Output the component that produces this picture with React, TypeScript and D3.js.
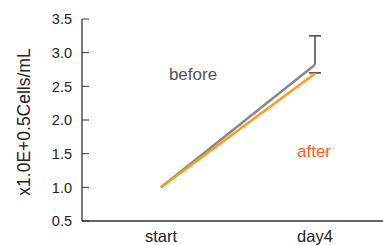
import * as d3 from "d3";

const WIDTH = 383;
const HEIGHT = 245;
const MARGIN = { top: 19, right: 0, bottom: 24, left: 82 };

const CATEGORIES = ["start", "day4"];
const BEFORE = [1.0, 2.82];
const BEFORE_ERR = [0, 0.43];
const AFTER = [1.0, 2.69];
const AFTER_ERR = [0, 0.01];
const Y_TICKS = [0.5, 1.0, 1.5, 2.0, 2.5, 3.0, 3.5];

const FONT = "'Liberation Sans', Arial, sans-serif";

export default function App() {
  const x = d3.scalePoint<string>().domain(CATEGORIES).range([161, 315]);
  const y = d3
    .scaleLinear()
    .domain([0.5, 3.5])
    .range([HEIGHT - MARGIN.bottom, MARGIN.top]);

  const line = d3
    .line<number>()
    .x((_, i) => x(CATEGORIES[i]) ?? 0)
    .y((d) => y(d));

  const x0 = MARGIN.left;
  const yBase = HEIGHT - MARGIN.bottom;
  const last = CATEGORIES.length - 1;
  const xLast = x(CATEGORIES[last]) ?? 0;

  return (
    <svg
      width={WIDTH}
      height={HEIGHT}
      style={{ position: "absolute", left: 0, top: 0, fontFamily: FONT }}
    >
      {/* axes */}
      <line x1={x0} x2={x0} y1={y(3.5)} y2={yBase} stroke="#333" strokeWidth={1.3} />
      <line x1={x0} x2={WIDTH} y1={yBase} y2={yBase} stroke="#333" strokeWidth={1.3} />
      {Y_TICKS.map((t) => (
        <g key={t}>
          <line x1={x0} x2={x0 + 7} y1={y(t)} y2={y(t)} stroke="#333" strokeWidth={1} />
          <text x={72} y={y(t)} dy="0.36em" textAnchor="end" fontSize={14.5} fill="#222">
            {t.toFixed(1)}
          </text>
        </g>
      ))}
      {CATEGORIES.map((c) => (
        <text key={c} x={x(c)} y={242} textAnchor="middle" fontSize={16.5} fill="#222">
          {c}
        </text>
      ))}
      <text
        transform={`translate(30,122) rotate(-90)`}
        textAnchor="middle"
        fontSize={17.5}
        fill="#222"
      >
        x1.0E+0.5Cells/mL
      </text>

      {/* error bars */}
      <line x1={xLast} x2={xLast} y1={y(BEFORE[last])} y2={y(BEFORE[last] + BEFORE_ERR[last])} stroke="#444" strokeWidth={1.5} />
      <line x1={xLast - 6} x2={xLast + 6} y1={y(BEFORE[last] + BEFORE_ERR[last])} y2={y(BEFORE[last] + BEFORE_ERR[last])} stroke="#444" strokeWidth={1.5} />
      <line x1={xLast - 6} x2={xLast + 6} y1={y(AFTER[last] + AFTER_ERR[last])} y2={y(AFTER[last] + AFTER_ERR[last])} stroke="#444" strokeWidth={1.5} />

      {/* series */}
      <path d={line(BEFORE) ?? ""} fill="none" stroke="#888" strokeWidth={2.5} />
      <path d={line(AFTER) ?? ""} fill="none" stroke="#ff9a1a" strokeWidth={2.5} />

      <text x={193} y={80} textAnchor="middle" fontSize={17} fill="#555">
        before
      </text>
      <text x={314} y={157} textAnchor="middle" fontSize={17} fill="#ff5a1f">
        after
      </text>
    </svg>
  );
}
